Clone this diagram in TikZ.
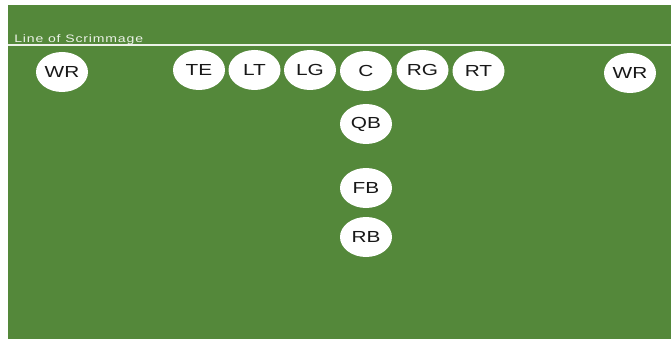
\documentclass[tikz,border=0pt]{standalone}
\usepackage{fontspec}
\setmainfont{Liberation Sans}
\newfontfamily\losfont[LetterSpace=6]{Liberation Sans}
\usepackage{tikz}
\usetikzlibrary{shapes.geometric}
\definecolor{figfield}{RGB}{84,136,58}
\definecolor{figline}{RGB}{236,242,232}
\definecolor{figtext}{RGB}{24,24,24}
\tikzset{
  field/.style ={fill=figfield, draw=none},
  los/.style   ={draw=figline, line width=1.3pt},
  loslab/.style={font=\losfont\fontsize{10.8}{10.8}\selectfont, text=figline, inner sep=0pt, xscale=1.3},
  player/.style={ellipse, fill=white, draw=none, minimum width=40pt, minimum height=40pt,
                 inner sep=0pt, font=\fontsize{16}{16}\selectfont, text=figtext, xscale=1.3},
}
\begin{document}
\begin{tikzpicture}[x=1pt,y=-1pt]
  \useasboundingbox (0,0) rectangle (671,339);
  \fill[field] (8,5) rectangle (671,339);
  % line of scrimmage
  \coordinate (losW) at (8,45);
  \coordinate (losE) at (671,45);
  \draw[los] (losW) -- (losE);
  \node[loslab,anchor=base west] (loslabel) at (14,42.5) {Line of Scrimmage};
  % offensive line
  \node[player] (wrl) at (62,72) {WR};
  \node[player] (te)  at (199,70) {TE};
  \node[player] (lt)  at (254.5,70) {LT};
  \node[player] (lg)  at (310,70) {LG};
  \node[player] (c)   at (366,71) {C};
  \node[player] (rg)  at (422.5,70) {RG};
  \node[player] (rt)  at (478.5,71) {RT};
  \node[player] (wrr) at (630,73) {WR};
  % backfield
  \node[player] (qb)  at (366,124) {QB};
  \node[player] (fb)  at (366,188) {FB};
  \node[player] (rb)  at (366,237) {RB};
\end{tikzpicture}
\end{document}
